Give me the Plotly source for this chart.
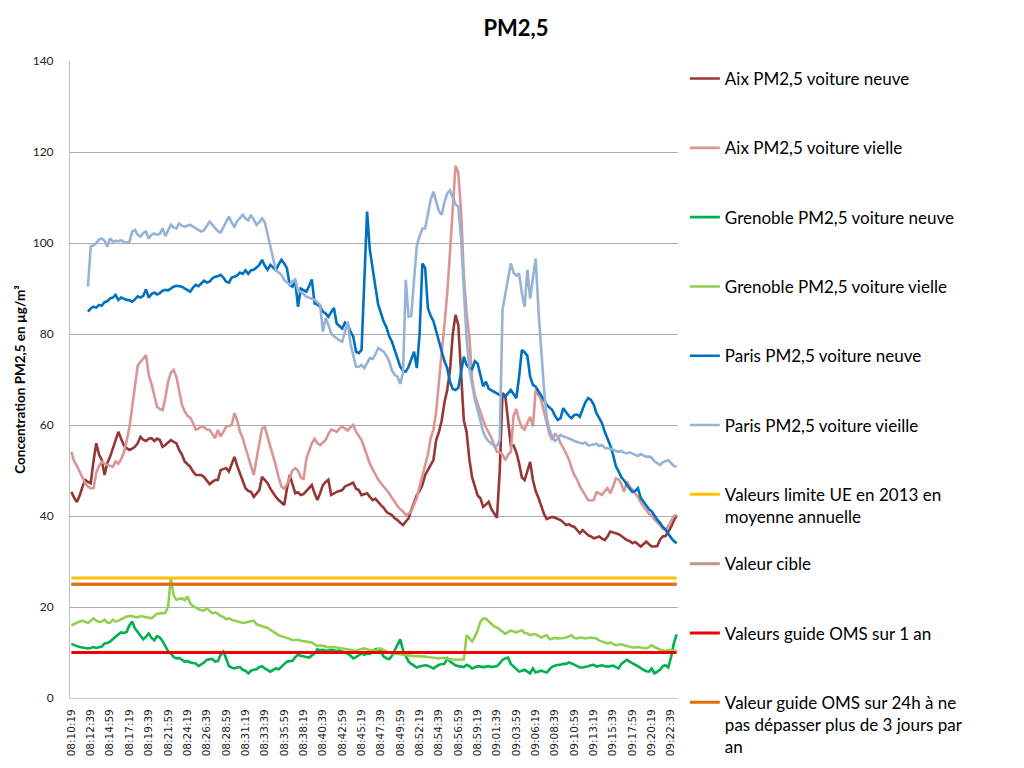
import plotly.graph_objects as go
from datetime import datetime, timedelta

# ---------------- categories (time stamps, 20 s step) ----------------
START_TIME = "08:10:19"
STEP_SECONDS = 20
N_POINTS = 220
LABEL_EVERY = 7
t0 = datetime.strptime(START_TIME, "%H:%M:%S")
times = [(t0 + timedelta(seconds=STEP_SECONDS * k)).strftime("%H:%M:%S") for k in range(N_POINTS)]
tick_labels = times[::LABEL_EVERY]

N = None
# ---------------- series values (µg/m³) ----------------
aix_neuve = [
    45.3, 44.0, 43.1, 44.5, 46.4, 47.9, 47.5, 47.2, 52.0, 56.0,
    53.5, 52.3, 49.0, 51.6, 53.0, 54.8, 56.7, 58.5, 57.0, 55.5,
    54.9, 54.5, 54.8, 55.2, 56.0, 57.4, 56.8, 56.5, 57.0, 57.1,
    56.5, 57.0, 56.7, 55.2, 55.6, 56.2, 56.7, 56.3, 56.0, 54.5,
    53.5, 52.0, 51.3, 50.8, 49.8, 49.0, 49.0, 49.0, 48.6, 47.8,
    47.0, 47.5, 47.9, 47.9, 50.1, 50.3, 50.5, 49.8, 51.5, 53.0,
    51.0, 49.3, 47.5, 46.1, 45.5, 45.3, 44.2, 45.0, 45.7, 48.6,
    48.0, 47.2, 46.0, 45.0, 44.2, 43.5, 43.0, 42.4, 46.0, 49.0,
    47.0, 45.0, 45.2, 44.6, 44.8, 45.5, 46.0, 46.8, 45.0, 43.5,
    45.0, 46.8, 47.5, 48.0, 44.6, 45.0, 45.3, 45.5, 45.7, 46.5,
    46.8, 47.0, 47.3, 46.0, 45.7, 44.6, 44.8, 45.0, 44.2, 43.5,
    43.8, 43.0, 42.4, 41.8, 40.9, 40.5, 40.2, 39.5, 39.1, 38.5,
    38.0, 38.8, 39.5, 41.3, 43.0, 44.6, 45.5, 46.8, 49.0, 50.1,
    51.5, 52.3, 56.7, 58.5, 61.0, 65.0, 67.7, 72.0, 80.0, 84.2,
    82.0, 70.0, 61.0, 58.5, 52.5, 48.5, 46.4, 44.5, 43.9, 42.0,
    42.5, 43.1, 41.5, 40.5, 39.6, 50.0, 67.0, 66.5, 61.0, 55.5,
    55.5, 54.0, 51.6, 48.5, 47.9, 50.0, 51.9, 47.9, 45.5, 44.0,
    42.0, 40.5, 39.3, 39.5, 39.8, 39.6, 39.4, 39.1, 38.6, 38.0,
    38.2, 37.8, 37.6, 36.8, 36.2, 36.9, 36.3, 35.8, 35.5, 35.1,
    35.3, 35.5, 35.0, 34.7, 35.5, 36.6, 36.4, 36.2, 36.0, 35.6,
    35.2, 34.7, 34.5, 34.0, 34.3, 33.8, 33.3, 33.8, 34.4, 33.8,
    33.3, 33.3, 33.4, 34.8, 35.5, 35.6, 36.5, 37.6, 39.0, 40.2,
]
aix_vieille = [
    54.1, 52.0, 51.0, 49.7, 48.5, 47.2, 46.5, 46.1, 46.1, 49.5,
    51.0, 51.9, 51.5, 51.3, 51.0, 50.8, 52.0, 51.5, 52.5, 54.0,
    56.5, 59.5, 64.0, 68.5, 73.0, 73.9, 74.5, 75.4, 71.0, 69.0,
    66.5, 64.0, 63.5, 63.3, 66.0, 69.5, 71.5, 72.1, 70.6, 67.5,
    64.5, 63.0, 62.0, 61.6, 60.5, 59.0, 59.2, 59.7, 59.5, 59.0,
    58.9, 58.0, 57.1, 58.9, 57.5, 58.5, 59.7, 59.8, 60.0, 62.6,
    61.0, 58.5, 57.1, 55.0, 53.0, 50.5, 49.0, 52.5, 56.0, 59.3,
    59.5, 57.5, 55.0, 53.0, 51.0, 48.5, 46.5, 46.0, 47.0, 48.5,
    50.0, 50.5, 50.0, 48.5, 48.0, 52.5, 54.5, 56.0, 57.0, 56.0,
    55.6, 56.2, 56.7, 58.0, 59.0, 58.8, 58.5, 59.2, 59.7, 59.2,
    58.8, 59.5, 60.0, 58.5, 57.5, 56.7, 55.0, 53.0, 51.5, 50.3,
    49.0, 48.0, 47.2, 46.5, 45.7, 45.0, 44.0, 43.0, 42.2, 41.5,
    41.0, 40.2, 40.5, 41.0, 42.5, 44.0, 46.5, 49.0, 51.0, 53.5,
    57.0, 59.0, 63.0, 70.0, 76.0, 82.0, 89.0, 98.0, 108.0, 117.0,
    115.5, 107.0, 93.0, 84.5, 79.4, 70.0, 66.5, 64.5, 62.5, 61.0,
    59.5, 58.5, 57.2, 55.5, 54.1, 54.0, 53.5, 52.3, 53.5, 54.1,
    62.0, 63.5, 61.0, 59.5, 59.0, 60.5, 61.8, 59.7, 67.7, 66.6,
    65.5, 63.0, 60.4, 58.0, 56.7, 58.0, 57.5, 56.0, 55.0, 53.8,
    52.5, 50.5, 49.0, 48.0, 46.5, 45.5, 44.5, 43.5, 43.4, 43.5,
    45.2, 45.0, 44.6, 45.5, 46.1, 45.0, 46.5, 48.3, 48.0, 47.0,
    45.3, 47.6, 46.5, 45.7, 44.8, 44.2, 43.0, 42.0, 41.3, 40.5,
    40.0, 39.2, 38.7, 38.0, 37.2, 36.9, 37.8, 38.8, 40.0, 40.2,
]
grenoble_neuve = [
    11.9, 11.6, 11.4, 11.2, 11.1, 11.0, 10.9, 11.0, 11.2, 11.0,
    11.2, 11.3, 12.0, 12.1, 12.4, 13.0, 13.5, 14.0, 14.4, 14.3,
    14.5, 16.0, 16.8, 15.3, 14.5, 13.8, 12.9, 13.5, 14.2, 13.2,
    12.7, 13.6, 13.3, 12.5, 11.3, 10.3, 9.8, 9.0, 8.7, 8.8,
    8.4, 8.0, 8.1, 7.8, 7.7, 7.6, 7.0, 7.4, 7.8, 8.4,
    8.5, 8.6, 8.0, 8.1, 9.5, 10.2, 8.7, 7.0, 6.7, 6.5,
    6.7, 6.8, 6.2, 6.0, 5.4, 6.0, 6.2, 6.3, 6.8, 7.0,
    6.5, 6.2, 5.8, 6.2, 6.5, 6.3, 6.8, 7.3, 8.0, 8.1,
    8.2, 9.0, 9.5, 9.3, 9.1, 9.0, 8.9, 9.4, 9.8, 10.7,
    10.5, 10.6, 10.4, 10.4, 10.6, 10.5, 10.3, 10.4, 10.2, 10.0,
    9.8, 9.3, 8.7, 9.0, 9.5, 9.8, 9.5, 9.8, 9.7, 10.2,
    10.7, 10.8, 10.2, 9.1, 8.7, 8.5, 9.3, 10.5, 11.8, 12.9,
    10.5, 9.1, 8.0, 7.5, 7.0, 6.7, 6.9, 7.0, 7.2, 7.1,
    6.8, 6.5, 6.9, 7.3, 7.4, 7.5, 8.7, 8.0, 7.6, 7.2,
    7.0, 6.9, 6.8, 7.3, 7.0, 6.5, 6.8, 7.0, 6.9, 6.8,
    6.9, 7.0, 6.8, 6.9, 7.0, 7.6, 8.4, 8.7, 8.9, 7.5,
    6.9, 6.2, 5.8, 6.0, 6.2, 5.8, 5.4, 6.5, 5.6, 5.8,
    6.0, 5.8, 5.6, 6.3, 6.9, 7.1, 7.3, 7.3, 7.5, 7.5,
    7.8, 7.6, 7.3, 7.0, 6.7, 6.7, 6.8, 7.0, 7.2, 7.3,
    6.9, 7.0, 7.2, 7.0, 6.9, 7.0, 7.1, 6.8, 6.5, 7.5,
    8.0, 8.4, 8.0, 7.6, 7.3, 7.0, 6.5, 6.2, 5.9, 5.8,
    6.5, 5.4, 5.8, 6.2, 7.0, 7.2, 6.7, 9.0, 12.0, 14.0,
]
grenoble_vieille = [
    16.0, 16.3, 16.5, 16.8, 17.0, 16.8, 16.5, 17.0, 17.5, 17.0,
    16.7, 16.8, 17.2, 16.6, 16.5, 17.2, 16.8, 17.0, 17.3, 17.6,
    17.9, 18.0, 18.0, 17.8, 17.7, 18.0, 17.9, 17.7, 17.6, 17.5,
    18.0, 18.5, 18.6, 18.6, 18.7, 20.1, 26.5, 22.5, 21.6, 21.8,
    21.9, 21.5, 22.3, 20.8, 20.2, 19.9, 19.5, 19.3, 19.2, 19.7,
    19.2, 18.6, 18.8, 18.5, 18.0, 17.8, 17.3, 17.5, 17.2, 17.0,
    16.8, 16.7, 16.5, 16.6, 16.7, 16.9, 17.0, 16.2, 16.0, 15.7,
    15.5, 15.4, 15.0, 14.6, 14.2, 13.8, 13.6, 13.4, 13.3, 13.0,
    12.7, 12.8, 12.8, 12.6, 12.5, 12.4, 12.3, 12.2, 11.8, 11.4,
    11.5, 11.5, 11.3, 11.1, 11.2, 11.2, 11.1, 11.0, 10.9, 10.8,
    10.7, 10.6, 10.5, 10.4, 10.6, 10.7, 10.9, 10.7, 10.5, 10.5,
    10.4, 10.7, 10.9, 10.5, 10.3, 10.0, 9.8, 9.8, 9.7, 9.6,
    9.5, 9.4, 9.3, 9.2, 9.2, 9.2, 9.2, 9.1, 9.1, 9.0,
    8.9, 8.8, 8.7, 8.7, 8.8, 8.8, 8.6, 8.5, 8.5, 8.4,
    8.4, 8.5, 8.5, 13.8, 13.1, 12.4, 13.5, 14.9, 16.8, 17.5,
    17.4, 16.8, 16.4, 15.7, 15.5, 15.0, 14.7, 14.1, 14.5, 14.8,
    14.6, 14.4, 14.7, 14.9, 14.3, 14.2, 13.8, 14.0, 14.0, 13.6,
    13.3, 13.6, 13.8, 12.9, 13.1, 13.2, 13.1, 13.1, 13.2, 13.3,
    13.6, 13.8, 13.2, 13.1, 13.3, 13.2, 13.1, 13.2, 13.3, 13.2,
    13.1, 12.6, 12.4, 12.1, 12.0, 12.2, 11.9, 11.6, 11.7, 11.8,
    11.6, 11.4, 11.3, 11.1, 11.1, 11.2, 11.1, 11.0, 10.9, 11.2,
    11.6, 11.2, 10.9, 10.6, 10.5, 10.4, 10.5, 10.6, 10.4, 10.4,
]
paris_neuve = [
    N, N, N, N, N, N, 84.9, 85.6, 86.0, 85.8,
    86.4, 86.2, 87.0, 87.2, 87.8, 88.0, 88.6, 87.5, 88.0, 87.7,
    87.5, 87.4, 87.1, 87.6, 88.3, 88.0, 88.4, 89.8, 88.0, 88.8,
    89.1, 88.7, 89.0, 89.5, 89.7, 89.6, 90.0, 90.4, 90.6, 90.5,
    90.4, 90.0, 89.6, 89.3, 90.2, 90.8, 90.5, 91.2, 91.7, 91.3,
    91.5, 92.2, 92.6, 92.7, 93.0, 92.4, 91.5, 91.3, 92.4, 92.6,
    92.9, 93.5, 93.2, 94.0, 93.2, 94.0, 94.1, 94.6, 95.2, 96.3,
    95.0, 94.1, 95.2, 94.6, 94.0, 95.3, 96.3, 95.5, 94.4, 90.8,
    90.4, 91.5, 86.0, 90.0, 89.6, 89.3, 90.5, 92.0, 86.7, 86.5,
    86.0, 84.9, 84.5, 83.8, 84.8, 85.7, 82.3, 81.8, 81.2, 82.5,
    82.0, 80.5, 79.4, 76.1, 75.8, 76.5, 90.0, 106.9, 98.5, 94.0,
    90.4, 86.5, 84.5, 82.7, 81.5, 79.5, 78.3, 76.5, 74.8, 72.8,
    71.9, 71.7, 72.8, 74.5, 76.1, 72.5, 80.0, 95.5, 94.5, 85.7,
    84.0, 82.8, 80.5, 78.0, 76.0, 74.0, 72.5, 69.5, 67.9, 67.7,
    68.2, 72.0, 75.0, 73.2, 72.5, 72.3, 74.0, 73.5, 70.6, 68.5,
    69.5, 68.0, 67.6, 67.3, 67.0, 66.6, 66.5, 66.2, 67.0, 67.7,
    66.8, 65.9, 70.6, 76.5, 76.0, 75.2, 70.6, 68.8, 68.4, 67.5,
    66.5, 65.5, 64.4, 63.8, 63.3, 62.0, 61.1, 61.5, 63.7, 62.8,
    62.0, 61.5, 62.2, 62.3, 61.8, 63.5, 65.0, 65.9, 65.5, 64.5,
    62.6, 61.5, 60.4, 58.5, 57.0, 55.5, 53.5, 51.0, 49.8, 48.5,
    47.8, 46.8, 46.0, 45.3, 45.5, 46.1, 44.0, 43.2, 42.3, 41.5,
    41.0, 40.0, 39.2, 38.5, 37.6, 37.0, 36.0, 35.2, 34.5, 34.0,
]
paris_vieille = [
    N, N, N, N, N, N, 90.4, 99.2, 99.5, 100.0,
    100.8, 101.0, 100.5, 99.2, 101.0, 100.3, 100.5, 100.4, 100.6, 100.2,
    100.0, 100.3, 102.5, 102.9, 101.8, 101.4, 102.2, 102.5, 101.0, 101.8,
    102.1, 101.8, 102.0, 103.2, 101.5, 102.8, 104.0, 103.4, 103.2, 104.3,
    103.8, 103.6, 103.8, 104.0, 103.6, 103.2, 102.8, 102.5, 102.8, 103.8,
    104.7, 104.0, 103.2, 102.6, 102.3, 103.5, 104.8, 105.8, 104.5, 103.6,
    104.8, 105.6, 106.2, 105.4, 105.0, 106.2, 105.0, 104.0, 104.6, 105.4,
    104.5, 102.0, 99.0, 96.5, 94.0, 93.5, 93.0, 91.9, 91.3, 90.8,
    91.6, 92.0, 89.5, 89.3, 88.8, 88.2, 88.0, 87.7, 87.5, 87.0,
    86.4, 80.5, 83.5, 82.0, 80.1, 79.5, 79.0, 78.6, 78.3, 80.5,
    82.7, 77.8, 75.0, 72.8, 72.8, 73.2, 72.5, 73.5, 74.7, 74.5,
    75.5, 76.9, 76.5, 76.1, 75.2, 74.0, 72.0, 71.0, 70.6, 69.0,
    71.5, 91.9, 83.8, 84.0, 92.0, 99.5, 101.5, 103.2, 103.2, 106.5,
    109.5, 111.3, 109.0, 107.0, 106.2, 109.0, 110.9, 111.6, 110.0, 108.5,
    108.0, 101.0, 90.0, 79.0, 72.5, 68.5, 65.5, 63.3, 61.0, 58.5,
    57.2, 56.4, 55.9, 55.5, 55.4, 56.7, 85.3, 88.5, 92.5, 95.5,
    93.5, 92.8, 93.3, 89.0, 86.0, 94.1, 87.8, 92.0, 96.6, 85.3,
    76.0, 68.0, 61.5, 59.0, 57.4, 56.5, 57.0, 57.8, 57.5, 57.3,
    57.1, 56.8, 56.5, 56.3, 56.1, 55.9, 56.2, 55.5, 55.6, 55.8,
    55.9, 55.4, 55.6, 55.0, 54.9, 54.8, 54.6, 54.3, 54.1, 54.3,
    53.9, 53.8, 54.0, 53.7, 53.5, 53.2, 53.6, 53.3, 53.0, 53.1,
    52.8, 52.0, 51.6, 51.2, 51.8, 52.0, 52.3, 51.6, 51.0, 50.8,
]

# ---------------- reference values (µg/m³) ----------------
valeur_limite_ue_2013 = 26.4
valeur_cible = 25
valeur_guide_oms_1an = 10
valeur_guide_oms_24h = 25

series = [
    ("Aix PM2,5 voiture neuve", aix_neuve, "#953735"),
    ("Aix PM2,5 voiture vielle", aix_vieille, "#D99694"),
    ("Grenoble PM2,5 voiture neuve", grenoble_neuve, "#00B050"),
    ("Grenoble PM2,5 voiture vielle", grenoble_vieille, "#92D050"),
    ("Paris PM2,5 voiture neuve", paris_neuve, "#0070C0"),
    ("Paris PM2,5 voiture vieille", paris_vieille, "#95B3D7"),
]
references = [
    ("Valeurs limite UE en 2013 en<br>moyenne annuelle", valeur_limite_ue_2013, "#FFC000"),
    ("Valeur cible", valeur_cible, "#C29190"),
    ("Valeurs guide OMS sur 1 an", valeur_guide_oms_1an, "#F00000"),
    ("Valeur guide OMS sur 24h à ne<br>pas dépasser plus de 3 jours par<br>an", valeur_guide_oms_24h, "#E36C09"),
]

LEGEND_LINES = 3


def pad(name):
    n = name.count("<br>") + 1
    return name + "<br> " * (LEGEND_LINES - n)


fig = go.Figure()
for name, vals, color in series:
    assert len(vals) == N_POINTS, name
    fig.add_trace(go.Scatter(x=times, y=vals, mode="lines", name=pad(name),
                             line=dict(color=color, width=2.6)))
for name, val, color in references:
    fig.add_trace(go.Scatter(x=[times[0], times[-1]], y=[val, val], mode="lines",
                             name=pad(name), line=dict(color=color, width=3)))

# the page body has an 8 px margin: the figure is 1016x760 placed at (8, 8)
fig.update_layout(
    width=1016, height=760,
    paper_bgcolor="white", plot_bgcolor="white",
    margin=dict(l=58, r=346, t=53, b=70),
    title=dict(text="<b>PM2,5</b>", x=0.5, xref="container", xanchor="center",
               y=1 - 20 / 760, yref="container", yanchor="middle",
               font=dict(family="Lato", size=22, color="#000")),
    showlegend=True,
    legend=dict(x=1.0113, xanchor="left", y=1.0, yanchor="top",
                font=dict(family="Lato", size=17, color="#000"),
                valign="top", itemwidth=30, tracegroupgap=0, maxheight=740,
                bgcolor="rgba(0,0,0,0)"),
    hovermode=False,
)
fig.update_xaxes(type="category", categoryorder="array", categoryarray=times,
                 range=[-0.5, N_POINTS - 0.5],
                 tickmode="array", tickvals=tick_labels, ticktext=tick_labels,
                 tickangle=-90, tickfont=dict(family="DejaVu Sans", size=10.5, color="#222"),
                 showgrid=False, showline=True, linecolor="#C8C8C8", linewidth=1,
                 ticks="", ticklabelstandoff=6, zeroline=False)
fig.update_yaxes(range=[0, 140], dtick=20, tick0=0,
                 tickfont=dict(family="Lato", size=12, color="#222"),
                 showgrid=True, gridcolor="#ADADAD", gridwidth=1,
                 showline=True, linecolor="#BEBEBE", linewidth=1,
                 ticks="", ticklabelstandoff=13, zeroline=False,
                 title=dict(text="<b>Concentration PM2,5 en µg/m³</b>",
                            font=dict(family="Lato", size=13.5, color="#000"),
                            standoff=3))

fig.write_html("out.html")
